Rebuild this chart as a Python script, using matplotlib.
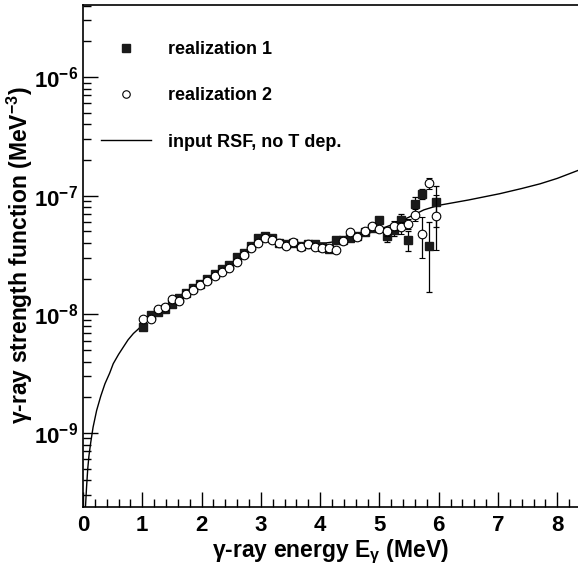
import matplotlib
matplotlib.use('Agg')
import matplotlib.pyplot as plt
from matplotlib.lines import Line2D
from matplotlib.ticker import FixedLocator, FixedFormatter, LogLocator, MultipleLocator, NullFormatter

plt.rcParams['font.family'] = ['Liberation Sans', 'DejaVu Sans']
plt.rcParams['font.weight'] = 'bold'
plt.rcParams['axes.labelweight'] = 'bold'
plt.rcParams['mathtext.fontset'] = 'custom'
plt.rcParams['mathtext.rm'] = 'Liberation Sans:bold'
plt.rcParams['mathtext.bf'] = 'Liberation Sans:bold'
plt.rcParams['mathtext.it'] = 'Liberation Sans:bold'

# gamma energies of the extracted points (MeV)
energy = [1.02, 1.14, 1.26, 1.38, 1.50, 1.62, 1.74, 1.86, 1.98, 2.10, 2.23, 2.35, 2.47, 2.59,
          2.71, 2.83, 2.95, 3.07, 3.19, 3.31, 3.43, 3.55, 3.67, 3.79, 3.91, 4.03, 4.15, 4.27,
          4.39, 4.51, 4.63, 4.76, 4.88, 5.00, 5.12, 5.24, 5.36, 5.48, 5.60, 5.72, 5.84, 5.96]

# realization 1 (filled squares)
rsf1 = [7.9e-9, 9.8e-9, 1.05e-8, 1.12e-8, 1.23e-8, 1.38e-8, 1.51e-8, 1.66e-8, 1.82e-8, 2.0e-8,
        2.19e-8, 2.4e-8, 2.63e-8, 3.02e-8, 3.31e-8, 3.8e-8, 4.37e-8, 4.57e-8, 4.37e-8, 3.98e-8,
        3.89e-8, 3.98e-8, 3.8e-8, 3.89e-8, 3.89e-8, 3.72e-8, 3.55e-8, 4.27e-8, 4.27e-8, 4.37e-8,
        4.57e-8, 4.9e-8, 5.37e-8, 6.2e-8, 4.6e-8, 5.1e-8, 6.2e-8, 4.2e-8, 8.5e-8, 1.03e-7,
        3.8e-8, 8.8e-8]
err1 = [0.2e-9, 0.2e-9, 0.3e-9, 0.3e-9, 0.3e-9, 0.3e-9, 0.4e-9, 0.4e-9, 0.4e-9, 0.5e-9,
        0.5e-9, 0.5e-9, 0.6e-9, 0.7e-9, 0.8e-9, 0.9e-9, 1.0e-9, 1.0e-9, 1.0e-9, 1.0e-9,
        1.0e-9, 1.0e-9, 1.0e-9, 1.0e-9, 1.1e-9, 1.1e-9, 1.2e-9, 1.3e-9, 1.4e-9, 1.6e-9,
        1.8e-9, 2.0e-9, 2.5e-9, 3.5e-9, 5e-9, 5e-9, 8e-9, 8e-9, 1.2e-8, 1.0e-8,
        2.25e-8, 3.3e-8]

# realization 2 (open circles)
rsf2 = [9.1e-9, 9.1e-9, 1.1e-8, 1.15e-8, 1.35e-8, 1.29e-8, 1.48e-8, 1.62e-8, 1.78e-8, 1.9e-8,
        2.09e-8, 2.29e-8, 2.45e-8, 2.75e-8, 3.16e-8, 3.63e-8, 3.98e-8, 4.37e-8, 4.27e-8, 3.98e-8,
        3.8e-8, 4.07e-8, 3.72e-8, 3.89e-8, 3.72e-8, 3.63e-8, 3.63e-8, 3.47e-8, 4.17e-8, 4.9e-8,
        4.47e-8, 5.0e-8, 5.6e-8, 5.2e-8, 5.0e-8, 5.6e-8, 5.4e-8, 5.8e-8, 6.9e-8, 4.8e-8,
        1.27e-7, 6.8e-8]
err2 = [0.2e-9, 0.2e-9, 0.3e-9, 0.3e-9, 0.3e-9, 0.3e-9, 0.4e-9, 0.4e-9, 0.4e-9, 0.5e-9,
        0.5e-9, 0.5e-9, 0.6e-9, 0.7e-9, 0.8e-9, 0.9e-9, 1.0e-9, 1.0e-9, 1.0e-9, 1.0e-9,
        1.0e-9, 1.0e-9, 1.0e-9, 1.0e-9, 1.1e-9, 1.1e-9, 1.2e-9, 1.3e-9, 1.4e-9, 1.6e-9,
        1.8e-9, 2.0e-9, 2.5e-9, 3.0e-9, 4e-9, 5e-9, 6e-9, 6e-9, 8e-9, 1.8e-8,
        1.3e-8, 3.3e-8]

# input RSF (no temperature dependence)
e_in = [0.04, 0.06, 0.08, 0.10, 0.13, 0.17, 0.23, 0.30, 0.37, 0.45, 0.51, 0.60, 0.68, 0.76,
        0.85, 0.93, 1.02, 1.14, 1.30, 1.50, 1.75, 2.00, 2.25, 2.50, 2.70, 2.85, 2.95, 3.05,
        3.20, 3.50, 3.80, 4.10, 4.40, 4.70, 5.00, 5.25, 5.50, 5.75, 6.00, 6.50, 7.03, 7.40,
        7.71, 8.00, 8.40]
rsf_in = [2.3e-10, 3.5e-10, 5.0e-10, 6.4e-10, 8.3e-10, 1.12e-9, 1.55e-9, 2.05e-9, 2.6e-9,
          3.2e-9, 3.84e-9, 4.6e-9, 5.3e-9, 6.1e-9, 6.9e-9, 7.5e-9, 8.3e-9, 9.3e-9, 1.07e-8,
          1.22e-8, 1.5e-8, 1.8e-8, 2.15e-8, 2.6e-8, 3.2e-8, 3.8e-8, 4.2e-8, 4.3e-8, 4.2e-8,
          4.0e-8, 4.0e-8, 4.0e-8, 4.2e-8, 4.6e-8, 5.2e-8, 5.8e-8, 6.6e-8, 7.6e-8, 8.3e-8,
          9.2e-8, 1.04e-7, 1.15e-7, 1.26e-7, 1.4e-7, 1.67e-7]

fig = plt.figure(figsize=(5.78, 5.68), dpi=100)
ax = fig.add_axes([0.1436, 0.1074, 0.8564, 0.8838])

ax.plot(e_in, rsf_in, color='black', lw=1.0, zorder=2)
ax.errorbar(energy, rsf1, yerr=err1, fmt='s', ms=5.4, color='#1a1a1a', mec='#1a1a1a',
            ecolor='black', elinewidth=0.9, capsize=2.0, capthick=0.9, zorder=3)
ax.errorbar(energy, rsf2, yerr=err2, fmt='o', ms=6.2, mfc='white', mec='black', mew=0.8,
            ecolor='black', elinewidth=0.9, capsize=2.0, capthick=0.9, zorder=4)

ax.set_yscale('log')
ax.set_xlim(0, 8.35)
ax.set_ylim(2.38e-10, 4.05e-6)

ax.xaxis.set_major_locator(MultipleLocator(1))
ax.xaxis.set_minor_locator(MultipleLocator(0.2))
ax.yaxis.set_major_locator(FixedLocator([1e-9, 1e-8, 1e-7, 1e-6]))
ax.yaxis.set_major_formatter(FixedFormatter([r'$\mathregular{10^{-9}}$', r'$\mathregular{10^{-8}}$',
                                             r'$\mathregular{10^{-7}}$', r'$\mathregular{10^{-6}}$']))
ax.yaxis.set_minor_locator(LogLocator(base=10, subs=range(2, 10)))
ax.yaxis.set_minor_formatter(NullFormatter())

ax.tick_params(which='both', direction='in', top=False, right=False, width=1.0, labelsize=16)
ax.tick_params(which='major', length=11)
ax.tick_params(which='minor', length=5.5)
ax.tick_params(axis='x', pad=6)
ax.spines['right'].set_visible(False)
for s in ['left', 'bottom', 'top']:
    ax.spines[s].set_linewidth(1.2)

ax.set_xlabel(r'γ-ray energy E$_\mathregular{γ}$ (MeV)', fontsize=16.5, fontweight='bold', labelpad=1)
ax.set_ylabel(r'γ-ray strength function (MeV$^\mathregular{-3}$)', fontsize=16.5, fontweight='bold')
ax.yaxis.set_label_coords(-0.097, 0.502)

handles = [Line2D([], [], ls='none', marker='s', ms=5.4, color='#1a1a1a'),
           Line2D([], [], ls='none', marker='o', ms=5.4, mfc='white', mec='black', mew=0.8),
           Line2D([], [], color='black', lw=1.0)]
labels = ['realization 1', 'realization 2', 'input RSF, no T dep.']
ax.legend(handles, labels, loc='upper left',
          bbox_to_anchor=(0.036, 0.928), frameon=False, fontsize=13, borderpad=0,
          borderaxespad=0, handlelength=2.8, handletextpad=0.9, labelspacing=1.62)

fig.savefig('out.png', dpi=100)
